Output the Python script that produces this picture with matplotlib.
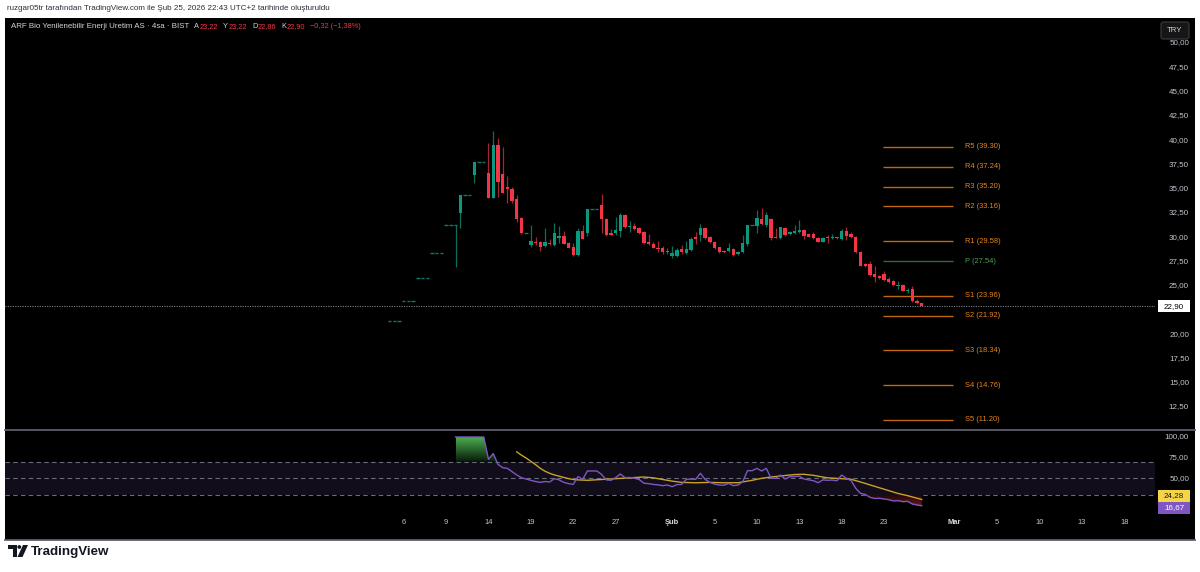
import numpy as np
import pandas as pd
import matplotlib
matplotlib.use("Agg")
import matplotlib.pyplot as plt
from matplotlib.patches import Rectangle, FancyBboxPatch, Polygon, Circle
from matplotlib.lines import Line2D
from matplotlib.transforms import blended_transform_factory, IdentityTransform
from matplotlib.colors import LinearSegmentedColormap
from matplotlib.path import Path

plt.rcParams['font.family'] = ['Liberation Sans', 'DejaVu Sans']

# ------------------------------------------------------------------ data
session_start = "2026-01-05"
bars_per_day = 3   # 4-hour bars on BIST

opens = [
    21.33, 21.33, 21.33,  23.46, 23.46, 23.46,  25.81, 25.81, 25.81,  28.39, 28.39, 28.39,
    31.23, 31.23, 31.23,  32.52, 34.35, 34.35,  36.40, 37.78, 37.78,  36.58, 34.06, 39.49,
    36.47, 35.20, 34.96,  33.96, 31.94, 30.46,  29.19, 29.53, 29.47,  29.12, 29.43, 29.19,
    29.94, 30.12, 29.43,  28.95, 28.16, 30.63,  30.40, 32.87, 32.87,  33.31, 31.87, 30.40,
    30.46, 30.67, 32.28,  31.00, 31.18, 30.90,  30.56, 29.47, 29.26,  28.91, 28.85, 28.44,
    28.10, 28.06, 28.75,  28.34, 28.68, 29.98,  30.22, 30.97, 30.02,  29.53, 28.95, 28.60,
    28.60, 28.78, 28.30,  28.50, 29.26, 31.28,  31.18, 31.87, 31.25,  31.84, 30.05, 29.94,
    30.97, 30.29, 30.45,  30.53, 30.74, 30.29,  30.29, 29.94, 29.53,  29.98, 29.90, 30.00,
    29.81, 30.63, 30.29,  29.98, 28.50, 27.20,  27.20, 26.20, 26.00,  26.20, 25.69, 25.48,
    24.97, 25.07, 24.45,  24.66, 23.45, 23.22,
]
highs = [
    21.33, 21.33, 21.33,  23.46, 23.46, 23.46,  25.81, 25.81, 25.81,  28.39, 28.39, 28.39,
    31.23, 31.23, 31.23,  34.35, 34.35, 34.35,  37.78, 37.78, 37.78,  39.67, 40.93, 40.18,
    39.26, 36.30, 35.20,  34.30, 32.05, 30.46,  31.25, 30.05, 29.60,  30.90, 29.85, 31.43,
    31.15, 30.60, 29.53,  29.40, 30.90, 31.25,  32.87, 32.87, 32.87,  34.44, 31.94, 30.81,
    32.11, 32.46, 32.38,  31.66, 31.50, 31.00,  30.67, 30.33, 29.53,  29.57, 29.09, 28.85,
    29.09, 28.85, 29.19,  29.64, 30.05, 30.50,  31.37, 31.05, 30.12,  29.64, 29.00, 28.66,
    29.40, 28.85, 28.60,  30.23, 31.28, 31.28,  32.80, 32.97, 32.55,  32.00, 30.90, 31.08,
    31.05, 30.60, 31.25,  31.76, 30.81, 30.46,  30.50, 30.05, 29.98,  30.22, 30.30, 30.05,
    30.81, 31.08, 30.56,  30.12, 28.55, 27.30,  27.54, 27.00, 26.10,  26.50, 25.86, 25.58,
    25.48, 25.17, 24.73,  24.97, 23.59, 23.22,
]
lows = [
    21.33, 21.33, 21.33,  23.46, 23.46, 23.46,  25.81, 25.81, 25.81,  28.39, 28.39, 28.39,
    31.23, 31.23, 26.96,  30.97, 34.35, 34.35,  35.55, 37.78, 37.78,  34.06, 34.06, 34.17,
    34.50, 33.55, 33.55,  31.60, 30.30, 30.46,  29.02, 29.19, 28.60,  29.02, 29.19, 29.10,
    29.36, 29.26, 28.84,  28.10, 28.09, 29.77,  30.10, 32.87, 32.87,  30.40, 30.12, 30.19,
    30.20, 30.00, 30.95,  30.56, 30.74, 30.33,  29.26, 29.19, 28.84,  28.50, 28.30, 28.30,
    27.88, 27.98, 28.30,  28.26, 28.60, 29.30,  29.64, 29.85, 29.40,  28.75, 28.40, 28.40,
    28.50, 28.10, 28.20,  28.40, 29.10, 31.28,  30.40, 31.25, 31.00,  29.70, 29.90, 29.80,
    30.15, 30.20, 30.35,  30.40, 29.77, 29.98,  29.80, 29.45, 29.45,  29.40, 29.85, 29.85,
    29.70, 29.70, 29.95,  28.35, 27.00, 26.95,  25.95, 25.37, 25.70,  25.50, 25.24, 24.97,
    24.63, 24.45, 24.24,  23.35, 23.08, 22.86,
]
closes = [
    21.33, 21.33, 21.33,  23.46, 23.46, 23.46,  25.81, 25.81, 25.81,  28.39, 28.39, 28.39,
    31.23, 31.23, 31.23,  34.35, 34.35, 34.35,  37.78, 37.78, 37.78,  34.06, 39.49, 35.71,
    34.58, 34.93, 33.76,  31.87, 30.46, 30.46,  29.60, 29.36, 28.95,  29.47, 29.26, 30.46,
    30.12, 29.30, 28.91,  28.16, 30.67, 29.81,  32.87, 32.87, 32.87,  31.84, 30.19, 30.26,
    30.74, 32.32, 31.01,  31.15, 30.81, 30.40,  29.36, 29.26, 28.91,  28.75, 28.44, 28.60,
    28.40, 28.68, 28.50,  28.78, 29.81, 29.81,  30.97, 29.94, 29.47,  28.85, 28.50, 28.44,
    28.85, 28.16, 28.50,  29.36, 31.25, 31.28,  31.94, 31.32, 32.28,  29.94, 29.94, 31.01,
    30.22, 30.56, 30.60,  30.74, 30.15, 30.05,  29.88, 29.53, 29.94,  29.90, 30.00, 29.90,
    30.67, 30.15, 29.98,  28.44, 27.06, 27.00,  26.10, 25.86, 25.83,  25.58, 25.35, 25.07,
    25.04, 24.48, 24.55,  23.45, 23.22, 22.90,
]

rsi_first_bar = 14
rsi_values = [
    100, 100, 100, 100, 100, 100, 100, 73, 80, 67,
    62.8, 62, 58, 54, 50.7, 49, 47.5, 46, 45, 46,
    45.5, 49.5, 48, 45, 43.5, 42.6, 52, 48.7, 58.8, 58.8,
    58.8, 54.7, 48, 47.5, 50.7, 55.2, 50.7, 51, 50, 48.5,
    44, 43.5, 42.5, 42, 41, 41.8, 39.8, 42.3, 42.5, 48.7,
    49, 48.7, 56, 48.7, 45, 43, 41.8, 41.5, 43.8, 41,
    41.8, 45.9, 59.2, 59.2, 62, 58.8, 62, 50, 49.9, 53.9,
    49.1, 51.9, 52, 52.5, 49.1, 48, 47, 44.6, 48, 47.5,
    47.8, 47, 53.9, 49.9, 47, 37.8, 31.7, 30.5, 26.9, 25.5,
    25.7, 24.8, 24, 22.4, 22.8, 21.6, 22, 18.8, 17.6, 16.67,
]
rsi_ma_bars = [27, 28, 29, 30, 31, 32, 33, 34, 35, 36, 37, 38, 39, 40, 42, 45, 48, 51, 54,
               56, 58, 60, 62, 65, 68, 71, 74, 77, 79, 81, 83, 86, 88, 90, 93, 96, 98,
               100, 102, 104, 106, 108, 110, 112, 113]
rsi_ma_values = [82, 78, 74.5, 70.5, 66.5, 62, 58.5, 56, 54, 52.5, 51, 49.5, 48.5, 48, 47.5,
                 48.5, 49.5, 50.5, 51.5, 50.5, 48.5, 46.5, 45, 44.5, 45, 44.5, 44.6, 47.5,
                 49.9, 51.5, 52.7, 54.5, 54.8, 53.5, 50.5, 49.5, 48.7, 45.5, 42, 38.5, 35,
                 31.5, 28.9, 25.8, 24.28]

pivot_names = ["R5", "R4", "R3", "R2", "R1", "P", "S1", "S2", "S3", "S4", "S5"]
pivot_values = [39.30, 37.24, 35.20, 33.16, 29.58, 27.54, 23.96, 21.92, 18.34, 14.76, 11.20]
pivot_from = "2026-02-23"
pivot_to = "2026-03-02"

price_ticks = [50.0, 47.5, 45.0, 42.5, 40.0, 37.5, 35.0, 32.5, 30.0, 27.5, 25.0, 20.0, 17.5, 15.0, 12.5]
rsi_ticks = [100, 75, 50]
rsi_levels = [70, 50, 30]
tick_dates = ["2026-01-06", "2026-01-09", "2026-01-14", "2026-01-19", "2026-01-22", "2026-01-27",
              "2026-02-02", "2026-02-05", "2026-02-10", "2026-02-13", "2026-02-18", "2026-02-23",
              "2026-03-02", "2026-03-05", "2026-03-10", "2026-03-13", "2026-03-18"]
tick_texts = ["6", "9", "14", "19", "22", "27", "Şub", "5", "10", "13", "18", "23",
              "Mar", "5", "10", "13", "18"]
last_price = 22.90
header_title = "ARF Bio Yenilenebilir Enerji Uretim AS · 4sa · BIST"
ohlc_header = [("A", "23,22"), ("Y", "23,22"), ("D", "22,86"), ("K", "22,90")]
change_text = "−0,32 (−1,38%)"
top_note = "ruzgar05tr tarafından TradingView.com ile Şub 25, 2026 22:43 UTC+2 tarihinde oluşturuldu"

# ------------------------------------------------------------------ layout
W, H = 1200, 572
fig = plt.figure(figsize=(W / 100, H / 100), dpi=100)
fig.patch.set_facecolor("white")

def fx(px):
    return px / W

def fy(py):
    return 1 - py / H

PANE_L, PANE_R, AX_R = 5, 1195, 1155
TOP, PRICE_BOT, RSI_TOP, RSI_BOT, BOTTOM = 18, 428, 431, 515, 540
X0_PX, BAR_PX = 389.6, 4.709
XLIM = ((PANE_L - X0_PX) / BAR_PX, (AX_R - X0_PX) / BAR_PX)

BG = "#000000"
TXT = "#c3c6ce"
UP, DOWN = "#089981", "#f23645"
UP_WICK, DOWN_WICK = "#0d6e5e", "#a32632"
FS = 5.4

fig.add_artist(Rectangle((fx(PANE_L), fy(BOTTOM)), (PANE_R - PANE_L) / W, (BOTTOM - TOP) / H,
                         transform=fig.transFigure, facecolor=BG, edgecolor="none", zorder=-5))

ax = fig.add_axes([fx(PANE_L), fy(PRICE_BOT), (AX_R - PANE_L) / W, (PRICE_BOT - TOP) / H])
rax = fig.add_axes([fx(PANE_L), fy(RSI_BOT), (AX_R - PANE_L) / W, (RSI_BOT - RSI_TOP) / H])
for a in (ax, rax):
    a.axis("off")
    a.set_xlim(*XLIM)

PRICE_PX = 9.707
ax.set_ylim(50 - (PRICE_BOT - 43) / PRICE_PX, 50 + (43 - TOP) / PRICE_PX)
RSI_PX = 0.825
RSI_YLIM = (100 - (RSI_BOT - 437) / RSI_PX, 100 + (437 - RSI_TOP) / RSI_PX)
rax.set_ylim(*RSI_YLIM)

days = pd.bdate_range(session_start, "2026-03-31")
day_bar = {d.strftime("%Y-%m-%d"): i * bars_per_day for i, d in enumerate(days)}

# ------------------------------------------------------------------ candles
o, h, l, c = map(np.asarray, (opens, highs, lows, closes))
x = np.arange(len(c))
up = c >= o
flat = np.abs(c - o) < 0.005
has_wick = h - l > 0.005
ax.vlines(x[has_wick], l[has_wick], h[has_wick],
          colors=np.where(up, UP_WICK, DOWN_WICK)[has_wick], linewidth=0.9, zorder=2)
nb = ~flat
body_lo = np.minimum(o, c)[nb]
body_h = np.maximum(np.abs(c - o)[nb], 0.1)
ax.bar(x[nb], body_h, bottom=body_lo, width=0.72,
       color=np.where(up, UP, DOWN)[nb], linewidth=0, zorder=3)
ax.hlines(c[flat], x[flat] - 0.36, x[flat] + 0.36, colors="#0e7a66", linewidth=1.0, zorder=3)

# current price line
ax.axhline(last_price, color="#7d808a", linewidth=0.8, linestyle=(0, (1, 1.2)), zorder=1)

# pivots
p0 = day_bar[pivot_from] - 0.2
p1 = day_bar[pivot_to] - 0.3
for name, val in zip(pivot_names, pivot_values):
    lc, tc = ("#2f6b3a", "#4c9f55") if name == "P" else ("#c0680f", "#e8861c")
    ax.hlines(val, p0, p1, colors=lc, linewidth=1.0, zorder=2)
    ax.text(p1 + 2.5, val, f"{name} ({val:.2f})", color=tc, fontsize=FS,
            ha="left", va="center", zorder=4)

# right price scale
tr_price = blended_transform_factory(fig.transFigure, ax.transData)
for t in price_ticks:
    ax.text(fx(1189), t, f"{t:.2f}".replace(".", ","), transform=tr_price, ha="right",
            va="center", fontsize=5.8, color=TXT, clip_on=False)

def ypix(axx, v):
    return H - axx.transData.transform((0, v))[1]

def label_box(cy, text, fc, tc):
    fig.add_artist(Rectangle((fx(1158), fy(cy + 6)), 32 / W, 12 / H, transform=fig.transFigure,
                             facecolor=fc, edgecolor="none", zorder=5))
    fig.text(fx(1174), fy(cy), text, ha="center", va="center", fontsize=5.8, color=tc, zorder=6)

label_box(ypix(ax, last_price), f"{last_price:.2f}".replace(".", ","), "#ffffff", "#000000")

# ------------------------------------------------------------------ RSI pane
rax.axhspan(30, 70, color="#110d1a", zorder=0, linewidth=0)
for lv in rsi_levels:
    rax.axhline(lv, color="#6a6d78", linewidth=0.8, linestyle=(0, (4, 3)), zorder=1)

rsi_x = np.arange(rsi_first_bar, rsi_first_bar + len(rsi_values))
rsi_y = np.asarray(rsi_values, float)

def gradient_fill(axx, xs, ys, ref, above, c_near, c_far, far_val):
    where = ys > ref if above else ys < ref
    coll = axx.fill_between(xs, ys, ref, where=where, interpolate=True,
                            facecolor="none", edgecolor="none")
    paths = coll.get_paths()
    if not paths:
        return
    clip = Path.make_compound_path(*paths)
    cmap = LinearSegmentedColormap.from_list("g", [c_near, c_far])
    grad = np.linspace(0, 1, 256).reshape(-1, 1)
    lo, hi = (ref, far_val) if above else (far_val, ref)
    im = axx.imshow(grad, extent=[xs.min(), xs.max(), lo, hi],
                    origin="lower" if above else "upper", cmap=cmap, aspect="auto",
                    interpolation="bilinear", zorder=2)
    im.set_clip_path(clip, axx.transData)

gradient_fill(rax, rsi_x, rsi_y, 70, True, "#07170a", "#4caf50", 100)
gradient_fill(rax, rsi_x, rsi_y, 30, False, "#1c0609", "#c42a31", 0)
rax.set_xlim(*XLIM)
rax.set_ylim(*RSI_YLIM)

rax.plot(rsi_ma_bars, rsi_ma_values, color="#c9a227", linewidth=1.0, zorder=3)
rax.plot(rsi_x, rsi_y, color="#7e57c2", linewidth=1.0, zorder=4)

tr_rsi = blended_transform_factory(fig.transFigure, rax.transData)
for t in rsi_ticks:
    rax.text(fx(1189), t, f"{t:.2f}".replace(".", ","), transform=tr_rsi, ha="right",
             va="center", fontsize=5.8, color=TXT, clip_on=False)
cy_ma = ypix(rax, rsi_ma_values[-1]) - 3.5
label_box(cy_ma, f"{rsi_ma_values[-1]:.2f}".replace(".", ","), "#f5d547", "#131722")
label_box(cy_ma + 12, f"{rsi_values[-1]:.2f}".replace(".", ","), "#7e57c2", "#ffffff")

# x axis labels
tr_x = blended_transform_factory(rax.transData, fig.transFigure)
for d, s in zip(tick_dates, tick_texts):
    bold = s.isalpha()
    rax.text(day_bar[d], fy(523), s, transform=tr_x, ha="center", va="center",
             fontsize=FS, color="#d8dbe2" if bold else TXT,
             fontweight="bold" if bold else "normal", clip_on=False)

# separators
for yy in (429.5, BOTTOM):
    fig.add_artist(Line2D([fx(PANE_L), fx(PANE_R)], [fy(yy), fy(yy)], transform=fig.transFigure,
                          color="#5d606b", linewidth=1.3, zorder=4))

# TRY box
fig.add_artist(FancyBboxPatch((1161, H - 39), 28, 17, boxstyle="round,pad=0,rounding_size=2.5",
                              transform=IdentityTransform(), facecolor="#161616",
                              edgecolor="#3b3d45", linewidth=0.8, zorder=6))
fig.text(fx(1175), fy(30.5), "TRY", ha="center", va="center", fontsize=5.6, color="#d1d4dc", zorder=7)

# ------------------------------------------------------------------ header texts
fig.text(fx(7), fy(9), top_note, ha="left", va="center", fontsize=5.8, color="#2a2e39")

renderer = fig.canvas.get_renderer()
parts = [(header_title, "#d1d4dc", 5, 5.65)]
for k, v in ohlc_header:
    parts += [(k, "#d1d4dc", 0.5, 5.3), (v, DOWN, 5, 5.3)]
parts += [(change_text, DOWN, 0, 5.3)]
xx = 11
for txt, col, gap, size in parts:
    t = fig.text(fx(xx), fy(27), txt, color=col, fontsize=size, ha="left", va="center")
    xx += t.get_window_extent(renderer).width + gap

# TradingView logo
fig.text(fx(31), fy(551.5), "TradingView", ha="left", va="center", fontsize=9.6,
         fontweight="bold", color="#131722")
logo = "#131722"
fig.add_artist(Polygon([(8, H - 545), (16.5, H - 545), (16.5, H - 557), (12.5, H - 557),
                        (12.5, H - 549), (8, H - 549)], closed=True, transform=IdentityTransform(),
                       facecolor=logo, edgecolor="none"))
fig.add_artist(Circle((19.3, H - 547), 1.9, transform=IdentityTransform(), facecolor=logo,
                      edgecolor="none"))
fig.add_artist(Polygon([(23, H - 545), (28, H - 545), (22.5, H - 557), (17.5, H - 557)], closed=True,
                       transform=IdentityTransform(), facecolor=logo, edgecolor="none"))

fig.savefig("out.png", dpi=100, facecolor="white")
